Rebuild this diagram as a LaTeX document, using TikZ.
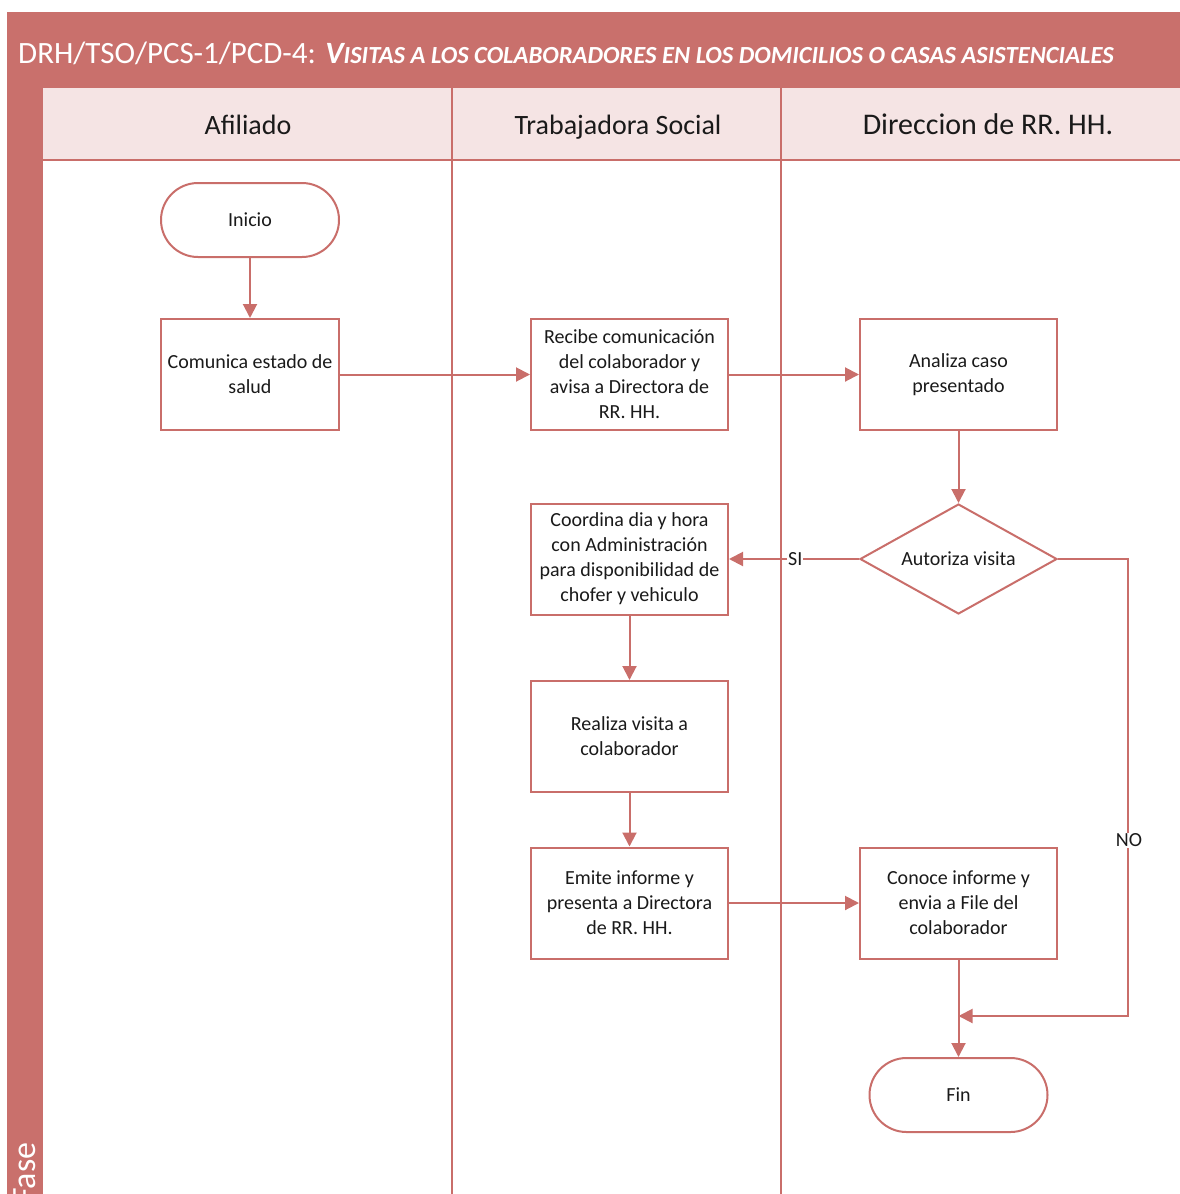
\documentclass[tikz,border=0pt]{standalone}
\usepackage{fontspec}
\setmainfont{Carlito}
\usetikzlibrary{arrows.meta,shapes.geometric}

\definecolor{band}{HTML}{C9706C}
\definecolor{headfill}{HTML}{F5E4E4}
\definecolor{edge}{HTML}{C96E6A}
\definecolor{ink}{HTML}{1A1A1A}

\newcommand\boxfont{\fontsize{20}{25}\selectfont}
\newcommand\smallcap[1]{{\fontsize{24.6}{24.6}\selectfont #1}}

\begin{document}
\begin{tikzpicture}[x=1pt,y=-1pt,
  flow/.style={draw=edge, line width=2pt, -{Triangle[length=14pt,width=14pt]}},
  proc/.style={draw=edge, line width=2pt, fill=white, minimum width=197pt,
    minimum height=111pt, align=center, font=\boxfont, text=ink, inner sep=2pt},
  term/.style={draw=edge, line width=2pt, fill=white, rounded corners=37pt,
    minimum width=178pt, minimum height=74pt, font=\boxfont, text=ink},
  decision/.style={diamond, shape aspect=1.79, draw=edge, line width=2pt, fill=white,
    minimum width=197pt, minimum height=110pt, inner sep=0pt, font=\boxfont, text=ink},
  lane/.style={draw=edge, line width=1.5pt},
  lanehead/.style={anchor=base, font=\fontsize{28}{28}\selectfont, text=ink},
  tag/.style={fill=white, inner sep=1pt, font=\boxfont, text=ink}]

\useasboundingbox (0,0) rectangle (1180,1194);
\clip (0,0) rectangle (1180,1194);

% pool frame: title band and phase band
\fill[band] (7,12) rectangle (1190,88);
\fill[band] (7,12) rectangle (43,1200);

% lane header row
\fill[headfill] (43,88) rectangle (1190,160);
\draw[lane] (43,160) -- (1190,160);
\draw[lane] (452,88) -- (452,1200);
\draw[lane] (781,88) -- (781,1200);

% titles
\node[anchor=west, text=white, inner sep=0pt, font=\fontsize{31}{31}\selectfont] (title) at (18,53)
  {DRH/TSO/PCS-1/PCD-4: \textbf{\textit{V\smallcap{ISITAS A LOS COLABORADORES EN LOS DOMICILIOS O CASAS ASISTENCIALES}}}};
\node[anchor=base west, rotate=90, inner sep=0pt, text=white, font=\fontsize{34}{34}\selectfont] (fase) at (35,1204) {Fase};

\node[lanehead] (h1) at (248,134) {Afiliado};
\node[lanehead] (h2) at (618,134) {Trabajadora Social};
\node[lanehead, font=\fontsize{30}{30}\selectfont] (h3) at (988,134) {Direccion de RR. HH.};

% flow nodes
\node[term] (inicio) at (250,220) {Inicio};
\node[proc, minimum width=178pt] (comunica) at (250,374.5) {Comunica estado de\\salud};
\node[proc] (recibe) at (629.5,374.5) {Recibe comunicación\\del colaborador y\\avisa a Directora de\\RR. HH.};
\node[proc] (analiza) at (958.5,374.5) {Analiza caso\\presentado};
\node[decision] (autoriza) at (958.5,559) {Autoriza visita};
\node[proc] (coordina) at (629.5,559) {Coordina dia y hora\\con Administración\\para disponibilidad de\\chofer y vehiculo};
\node[proc] (realiza) at (629.5,736.5) {Realiza visita a\\colaborador};
\node[proc] (emite) at (629.5,903) {Emite informe y\\presenta a Directora\\de RR. HH.};
\node[proc] (conoce) at (958.5,903) {Conoce informe y\\envia a File del\\colaborador};
\node[term] (fin) at (958.5,1095) {Fin};

\coordinate (noX) at (1128,0);
\coordinate (merge) at (958.5,1016);

% connectors
\draw[flow] (inicio) -- (comunica);
\draw[flow] (comunica) -- (recibe);
\draw[flow] (recibe) -- (analiza);
\draw[flow] (analiza) -- (autoriza);
\draw[flow] (autoriza.west) -- node[tag, pos=0.49] {SI} (coordina.east);
\draw[flow] (coordina) -- (realiza);
\draw[flow] (realiza) -- (emite);
\draw[flow] (emite) -- (conoce);
\draw[flow] (conoce) -- (fin);
\draw[flow] (autoriza.east) -- (autoriza.east -| noX)
  -- node[tag, pos=0.615, xshift=1pt] {NO} (merge -| noX) -- (merge);

\end{tikzpicture}
\end{document}
